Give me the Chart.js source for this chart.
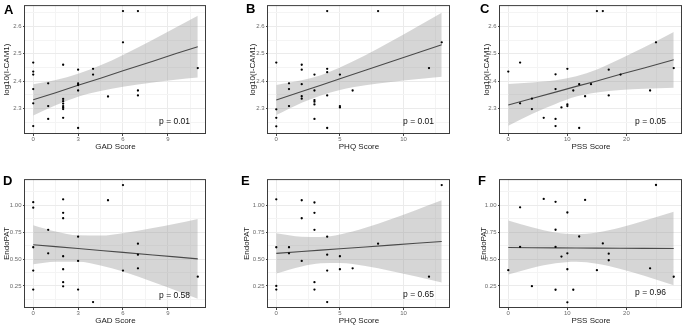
<!DOCTYPE html>
<html>
<head>
<meta charset="utf-8">
<script src="https://cdn.jsdelivr.net/npm/chart.js@4.4.1/dist/chart.umd.min.js"></script>
<style>
  html, body { margin: 0; padding: 0; width: 685px; height: 325px; overflow: hidden; background: #fff; }
  canvas { position: absolute; }
</style>
</head>
<body>
<canvas id="pA"></canvas>
<canvas id="pB"></canvas>
<canvas id="pC"></canvas>
<canvas id="pD"></canvas>
<canvas id="pE"></canvas>
<canvas id="pF"></canvas>
<script>
// ---------- scatter data ----------
const gadA  = [0,0,0,0,0,0,1,1,1,2,2,2,2,2,2,2,2,3,3,3,3,3,4,4,5,6,6,7,7,7,11];
const icamA = [2.468,2.435,2.424,2.371,2.319,2.236,2.392,2.309,2.262,2.460,2.335,2.327,2.318,2.309,2.304,2.298,2.266,2.442,2.392,2.386,2.366,2.229,2.445,2.424,2.344,2.656,2.542,2.656,2.366,2.348,2.448];

const phqB  = [0,0,0,0,1,1,1,2,2,2,2,2,3,3,3,3,3,3,4,4,4,4,4,5,5,5,6,8,12,13];
const icamB = [2.468,2.297,2.266,2.235,2.392,2.371,2.309,2.460,2.442,2.389,2.345,2.336,2.424,2.366,2.331,2.325,2.315,2.262,2.656,2.445,2.433,2.348,2.229,2.424,2.309,2.304,2.366,2.656,2.448,2.542];

const pssC  = [0,2,2,4,4,6,8,8,8,8,9,10,10,10,11,12,12,13,14,15,16,17,17,19,24,25,28];
const icamC = [2.435,2.468,2.319,2.336,2.298,2.266,2.425,2.371,2.262,2.236,2.304,2.445,2.315,2.309,2.366,2.389,2.229,2.345,2.389,2.656,2.656,2.442,2.348,2.424,2.366,2.542,2.448];

const gadD  = [0,0,0,0,0,1,1,2,2,2,2,2,2,2,3,3,3,4,5,6,6,7,7,7,11];
const endoD = [1.03,0.979,0.61,0.393,0.216,0.772,0.553,1.057,0.931,0.88,0.526,0.405,0.285,0.246,0.709,0.483,0.216,0.099,1.048,1.189,0.393,0.643,0.541,0.414,0.336];

const phqE  = [0,0,0,0,1,1,2,2,2,3,3,3,3,3,4,4,4,4,5,5,6,8,12,13];
const endoE = [1.057,0.61,0.25,0.216,0.61,0.553,1.048,0.88,0.483,1.027,0.931,0.772,0.285,0.216,0.709,0.541,0.393,0.099,0.526,0.405,0.414,0.643,0.336,1.189];

const pssF  = [0,2,2,4,6,8,8,8,8,9,10,10,10,10,11,12,13,15,16,17,17,24,25,28];
const endoF = [0.396,0.982,0.613,0.247,1.06,1.033,0.773,0.613,0.214,0.523,0.934,0.553,0.405,0.097,0.214,0.71,1.051,0.396,0.646,0.55,0.489,0.414,1.19,0.335];

// ---------- fitted lines and 95% bands ----------
const fitXA = [0,1.5,3,4.5,6,8,9.5,11];
const fitYA = [2.332,2.358,2.385,2.411,2.438,2.473,2.500,2.526];
const hiA   = [2.389,2.404,2.427,2.458,2.496,2.551,2.595,2.639];
const loA   = [2.275,2.312,2.343,2.364,2.380,2.395,2.405,2.413];

const fitXB = [0,2,3.5,5,7,9,11,13];
const fitYB = [2.331,2.362,2.385,2.409,2.440,2.471,2.502,2.533];
const hiB   = [2.386,2.403,2.422,2.450,2.495,2.545,2.597,2.650];
const loB   = [2.276,2.321,2.348,2.368,2.385,2.397,2.407,2.416];

const fitXC = [0,4,8,11.5,15,19,23,28];
const fitYC = [2.313,2.337,2.360,2.381,2.401,2.425,2.448,2.478];
const hiC   = [2.390,2.395,2.403,2.418,2.443,2.482,2.524,2.580];
const loC   = [2.237,2.280,2.317,2.344,2.359,2.368,2.372,2.376];

const fitXD = [0,1.5,3,4.5,6,8,9.5,11];
const fitYD = [0.634,0.616,0.598,0.580,0.562,0.538,0.520,0.502];
const hiD   = [0.816,0.757,0.721,0.719,0.741,0.789,0.830,0.874];
const loD   = [0.452,0.475,0.475,0.441,0.383,0.287,0.210,0.130];

const fitXE = [0,2,3.5,5,7,9,11,13];
const fitYE = [0.553,0.570,0.583,0.596,0.613,0.630,0.647,0.664];
const hiE   = [0.741,0.709,0.706,0.729,0.791,0.871,0.957,1.047];
const loE   = [0.365,0.431,0.460,0.463,0.435,0.389,0.337,0.281];

const fitXF = [0,4,8,11.5,15,19,23,28];
const fitYF = [0.607,0.606,0.604,0.603,0.602,0.601,0.600,0.598];
const hiF   = [0.859,0.796,0.748,0.732,0.748,0.795,0.856,0.940];
const loF   = [0.355,0.416,0.460,0.475,0.456,0.407,0.344,0.256];

// ---------- axis ticks ----------
const gadTicks  = [0,3,6,9];        const gadMinor  = [1.5,4.5,7.5,10.5];
const phqTicks  = [0,5,10];         const phqMinor  = [2.5,7.5,12.5];
const pssTicks  = [0,10,20];        const pssMinor  = [5,15,25];
const icamTicks = [2.3,2.4,2.5,2.6]; const icamMinor = [2.25,2.35,2.45,2.55,2.65];
const endoTicks = [0.25,0.5,0.75,1.0]; const endoMinor = [0.125,0.375,0.625,0.875,1.125];

const pLabels = ['p = 0.01','p = 0.01','p = 0.05','p = 0.58','p = 0.65','p = 0.96'];

const FONT = "'Liberation Sans', Arial, Helvetica, sans-serif";
Chart.defaults.font.family = FONT;

const YW = 30;   // y-axis strip width
const XH = 26;   // x-axis strip height

function pts(xs, ys) { return xs.map((x, i) => ({ x: x, y: ys[i] })); }

function axis(kind, min, max, majors, minors, digits, title, titlePad) {
  const all = majors.concat(minors).sort((a, b) => a - b);
  const isMajor = v => majors.some(m => Math.abs(m - v) < 1e-9);
  return {
    type: 'linear', min: min, max: max,
    afterBuildTicks: s => { s.ticks = all.map(v => ({ value: v })); },
    afterFit: s => { if (kind === 'x') s.height = XH; else s.width = YW; },
    grid: {
      color: c => (c.tick && isMajor(c.tick.value)) ? '#EBEBEB' : '#F4F4F4',
      lineWidth: 1,
      drawTicks: true,
      tickLength: 2,
      tickColor: c => (c.tick && isMajor(c.tick.value)) ? '#444' : 'rgba(0,0,0,0)'
    },
    border: { display: false },
    ticks: {
      autoSkip: false, maxRotation: 0, minRotation: 0,
      padding: kind === 'x' ? -0.5 : 1.5,
      color: '#6a6a6a', font: { size: 6 },
      callback: v => isMajor(v) ? Number(v).toFixed(digits) : ''
    },
    title: {
      display: true, text: title, color: '#1a1a1a', font: { size: 8 },
      padding: kind === 'x' ? { top: 0, bottom: 8.5 } : { top: titlePad, bottom: 0 }
    }
  };
}

function panel(p) {
  const cv = document.getElementById(p.id);
  const cl = p.l - YW, ct = p.t - 1;
  cv.width = YW + (p.r - p.l) + 2;
  cv.height = 1 + (p.b - p.t) + XH;
  cv.style.left = cl + 'px';
  cv.style.top = ct + 'px';

  const decor = {
    id: 'decor',
    afterDraw(chart) {
      const ctx = chart.ctx, a = chart.chartArea;
      ctx.save();
      ctx.strokeStyle = '#3c3c3c';
      ctx.lineWidth = 1;
      ctx.strokeRect(a.left - 0.5, a.top + 0.5, a.right - a.left, a.bottom - a.top - 1);
      ctx.fillStyle = '#111';
      ctx.font = '8.5px ' + FONT;
      ctx.textAlign = 'right';
      ctx.textBaseline = 'middle';
      ctx.fillText(p.pText, a.right - 16, a.bottom - p.pOff);
      ctx.fillStyle = '#000';
      ctx.font = 'bold 13px ' + FONT;
      ctx.textAlign = 'left';
      ctx.textBaseline = 'alphabetic';
      ctx.fillText(p.letter, p.lx - cl, p.ly - ct);
      ctx.restore();
    }
  };

  new Chart(cv, {
    type: 'scatter',
    data: {
      datasets: [
        { data: pts(p.xs, p.ys), backgroundColor: '#000', borderColor: '#000', borderWidth: 0,
          pointRadius: 1.15, order: 0 },
        { type: 'line', data: pts(p.fx, p.fy), borderColor: '#4a4a4a', borderWidth: 1.1,
          pointRadius: 0, fill: false, order: 1 },
        { type: 'line', data: pts(p.fx, p.lo), borderColor: 'rgba(0,0,0,0)', borderWidth: 0,
          pointRadius: 0, fill: false, cubicInterpolationMode: 'monotone', order: 3 },
        { type: 'line', data: pts(p.fx, p.hi), borderColor: 'rgba(0,0,0,0)', borderWidth: 0,
          pointRadius: 0, fill: 2, backgroundColor: 'rgba(153,153,153,0.4)',
          cubicInterpolationMode: 'monotone', order: 2 }
      ]
    },
    options: {
      responsive: false, animation: false, events: [],
      layout: { padding: { left: 0, top: 1, right: 2, bottom: 0 } },
      plugins: { legend: { display: false }, tooltip: { enabled: false } },
      scales: { x: p.xAxis, y: p.yAxis }
    },
    plugins: [decor]
  });
}

const icamY = pad => axis('y', 2.207, 2.678, icamTicks, icamMinor, 1, 'log10(I-CAM1)', pad);
const endoY = pad => axis('y', 0.044, 1.245, endoTicks, endoMinor, 2, 'EndoPAT', pad);
const gadX = () => axis('x', -0.55, 11.55, gadTicks, gadMinor, 0, 'GAD Score');
const phqX = () => axis('x', -0.65, 13.65, phqTicks, phqMinor, 0, 'PHQ Score');
const pssX = () => axis('x', -1.4, 29.4, pssTicks, pssMinor, 0, 'PSS Score');

panel({ id: 'pA', l: 25,  t: 1,   r: 208, b: 134, letter: 'A', lx: 4,   ly: 13.5, pText: pLabels[0], pOff: 12,
        xs: gadA, ys: icamA, fx: fitXA, fy: fitYA, lo: loA, hi: hiA, xAxis: gadX(), yAxis: icamY(7.2) });
panel({ id: 'pB', l: 268, t: 1,   r: 452, b: 134, letter: 'B', lx: 246, ly: 12.5, pText: pLabels[1], pOff: 12,
        xs: phqB, ys: icamB, fx: fitXB, fy: fitYB, lo: loB, hi: hiB, xAxis: phqX(), yAxis: icamY(10.2) });
panel({ id: 'pC', l: 500, t: 1,   r: 684, b: 134, letter: 'C', lx: 480, ly: 13,   pText: pLabels[2], pOff: 12,
        xs: pssC, ys: icamC, fx: fitXC, fy: fitYC, lo: loC, hi: hiC, xAxis: pssX(), yAxis: icamY(11.9) });
panel({ id: 'pD', l: 25,  t: 175, r: 208, b: 308, letter: 'D', lx: 3,   ly: 185,  pText: pLabels[3], pOff: 12,
        xs: gadD, ys: endoD, fx: fitXD, fy: fitYD, lo: loD, hi: hiD, xAxis: gadX(), yAxis: endoY(7.2) });
panel({ id: 'pE', l: 268, t: 175, r: 452, b: 308, letter: 'E', lx: 241, ly: 185,  pText: pLabels[4], pOff: 13,
        xs: phqE, ys: endoE, fx: fitXE, fy: fitYE, lo: loE, hi: hiE, xAxis: phqX(), yAxis: endoY(3.7) });
panel({ id: 'pF', l: 500, t: 175, r: 684, b: 308, letter: 'F', lx: 478, ly: 184.5, pText: pLabels[5], pOff: 15,
        xs: pssF, ys: endoF, fx: fitXF, fy: fitYF, lo: loF, hi: hiF, xAxis: pssX(), yAxis: endoY(8.7) });
</script>
</body>
</html>
